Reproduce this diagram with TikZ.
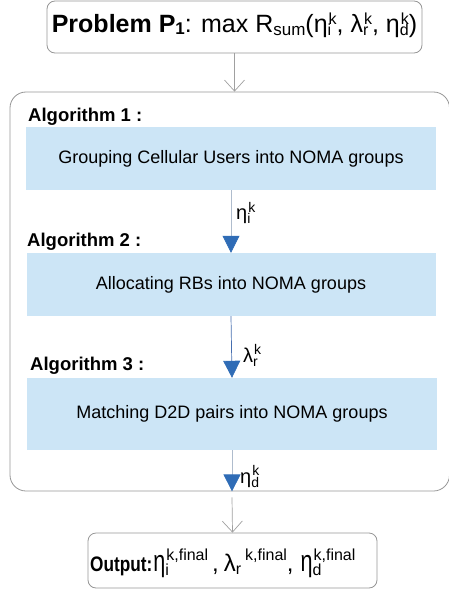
\documentclass[tikz,border=0pt]{standalone}
\usepackage{fontspec}
\setmainfont{Liberation Sans}
\usetikzlibrary{arrows.meta}
\definecolor{boxgray}{RGB}{150,150,150}
\definecolor{bluefill}{RGB}{204,229,246}
\definecolor{arrowblue}{RGB}{47,108,182}
\definecolor{lightline}{RGB}{175,188,205}
\definecolor{darkline}{RGB}{70,110,175}
\definecolor{greyarrow}{RGB}{160,160,160}
\newcommand\fs[1]{\fontsize{#1}{#1}\selectfont}
% base, sub, sup, small size, sub drop, sup raise
\newcommand\ssub[6]{#1\makebox[0pt][l]{\raisebox{-#5}{\fs{#4}#2}}\raisebox{#6}{\fs{#4}\hspace{1pt}#3}}
\newcommand\bigeta{\scalebox{0.72}[1]{\fs{30}η}}
\tikzset{
  roundbox/.style={draw=boxgray, line width=0.8pt, rounded corners=8pt, inner sep=0pt},
  bigbox/.style={draw=boxgray, line width=0.8pt, rounded corners=16pt, inner sep=0pt},
  bluebox/.style={fill=bluefill, inner sep=0pt, text height=13pt, text depth=4pt, font=\fs{18}},
  alglabel/.style={anchor=base west, inner sep=0pt, font=\bfseries\fs{18.5}},
  bluearrow/.style={line width=0.7pt, -{Triangle[length=17pt,width=17pt,color=arrowblue,fill=arrowblue]}},
  greyarrowstyle/.style={draw=greyarrow, line width=0.7pt, -{Straight Barb[length=11pt,width=20pt]}},
  arrlabel/.style={anchor=base west, inner sep=0pt, font=\fs{20}}
}
\begin{document}
\begin{tikzpicture}[x=1pt,y=-1pt]
\useasboundingbox (0,0) rectangle (448,591);
% top problem box
\node[roundbox, minimum width=375pt, minimum height=52pt, text height=20pt, text depth=8pt, font=\fs{25}] (prob) at (234.5,27)
  {\textbf{Problem P\raisebox{-2pt}{\fs{17}1}}: max R\raisebox{-3pt}{\fs{17}sum}(\ssub{η}{i}{k}{16}{3pt}{8pt}, \ssub{λ}{r}{k}{16}{3pt}{8pt}, \ssub{η}{d}{k}{16}{3pt}{8pt})};
% big container
\node[bigbox, minimum width=439.5pt, minimum height=399pt] (main) at (229.75,291.5) {};
% algorithm labels
\node[alglabel] (a1) at (28,121.5) {Algorithm 1 :};
\node[alglabel] (a2) at (27,246) {Algorithm 2 :};
\node[alglabel] (a3) at (30,370) {Algorithm 3 :};
% blue boxes
\node[bluebox, minimum width=410pt, minimum height=63pt] (b1) at (231,158.5) {Grouping Cellular Users into NOMA groups};
\node[bluebox, minimum width=409pt, minimum height=63pt] (b2) at (231,284.5) {Allocating RBs into NOMA groups};
\node[bluebox, minimum width=410pt, minimum height=72pt] (b3) at (232,414) {Matching D2D pairs into NOMA groups};
% output box
\node[roundbox, minimum width=289pt, minimum height=55pt] (out) at (232.5,560.5) {};
\node[anchor=base west, inner sep=0pt] (outtext) at (90,571)
  {\scalebox{0.82}[1]{\bfseries\fs{21}Output:}\hspace{1pt}\ssub{\bigeta}{\fs{16}i}{k,final}{16}{4pt}{11pt}\hspace{4pt}\fs{24},\hspace{5pt}λ\raisebox{-3pt}{\fs{16}r}\hspace{4pt}\raisebox{11pt}{\fs{16}k,final},\hspace{7pt}\ssub{\bigeta}{d}{k,final}{16}{4pt}{11pt}};
% connectors
\coordinate (m3) at (b3.south |- main.south);
\draw[greyarrowstyle] (prob.south) -- (prob.south |- main.north);
\draw[bluearrow, draw=lightline] (b1.south) -- (b2.north);
\draw[bluearrow, draw=darkline] (b2.south) -- (b3.north);
\draw[bluearrow, draw=lightline] (b3.south) -- (m3);
\draw[greyarrowstyle] ([yshift=-6pt]m3) -- (out.north);
% arrow labels
\node[arrlabel] (l1) at (236,219) {\ssub{η}{i}{k}{14}{4pt}{7pt}};
\node[arrlabel] (l2) at (243,362) {\ssub{λ}{r}{k}{14}{4pt}{8pt}};
\node[arrlabel] (l3) at (240,483) {\ssub{η}{d}{k}{14}{4pt}{8pt}};
\end{tikzpicture}
\end{document}
